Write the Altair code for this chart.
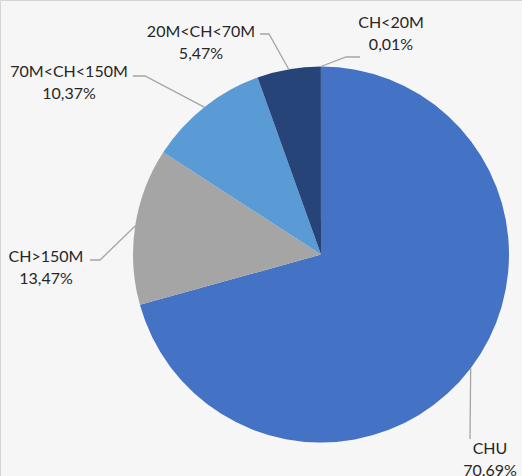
import math

import altair as alt
import pandas as pd

# Share of each hospital category (percent), clockwise from 12 o'clock
categories = ["CHU", "CH>150M", "70M<CH<150M", "20M<CH<70M", "CH<20M"]
shares = [70.69, 13.47, 10.37, 5.47, 0.01]
share_labels = ["70.69%", "13,47%", "10,37%", "5,47%", "0,01%"]
colors = ["#4472C4", "#A5A5A5", "#5B9BD5", "#264478", "#1F3864"]

# Pie geometry in pixels
W, H = 522, 476
CX, CY, R = 321, 254.5, 188

# Label layout: text centre x, baseline of the name line, leader elbow and end
label_x = [490, 46, 69, 201, 391]
label_y = [454, 262, 77, 37, 28]
elbow_pts = [(470, 439), (100, 260), (145, 76), (269, 34), (346, 57)]
end_pts = [(470, 439), (90, 260), (133, 76), (260, 34), (360, 57)]
LINE_GAP = 22

pie_df = pd.DataFrame({"cat": categories, "share": shares, "idx": range(len(categories))})

# Leader lines start on the rim at each slice's mid-angle
total = sum(shares)
rows = []
acc = 0.0
for i, (c, s) in enumerate(zip(categories, shares)):
    mid = (acc + s / 2) / total * 2 * math.pi
    acc += s
    ax = CX + R * math.sin(mid)
    ay = CY - R * math.cos(mid)
    pts = [(ax, ay), elbow_pts[i], end_pts[i]]
    for k, (px, py) in enumerate(pts):
        rows.append({"cat": c, "seg": k, "px": px, "py": py})
leader_df = pd.DataFrame(rows)

text_rows = []
for i, c in enumerate(categories):
    text_rows.append({"t": c, "px": label_x[i], "py": label_y[i]})
    text_rows.append({"t": share_labels[i], "px": label_x[i], "py": label_y[i] + LINE_GAP})
text_df = pd.DataFrame(text_rows)

shadow_df = pd.DataFrame({"r": [R + 1, R + 3, R + 5, R + 7]})

shadow = alt.Chart(shadow_df).mark_arc(theta=0, theta2=2 * math.pi, color="#000000", opacity=0.035).encode(
    x=alt.value(CX + 1),
    y=alt.value(CY + 2),
    radius=alt.Radius("r:Q", scale=None),
)

pie = alt.Chart(pie_df).mark_arc(radius=R, stroke=None).encode(
    theta=alt.Theta("share:Q", stack=True),
    order=alt.Order("idx:Q"),
    color=alt.Color("cat:N", scale=alt.Scale(domain=categories, range=colors), legend=None),
    x=alt.value(CX),
    y=alt.value(CY),
)

leaders = alt.Chart(leader_df).mark_line(color="#A5A5A5", strokeWidth=1.3).encode(
    x=alt.X("px:Q", scale=None, axis=None),
    y=alt.Y("py:Q", scale=None, axis=None),
    detail="cat:N",
    order="seg:Q",
)

labels = alt.Chart(text_df).mark_text(
    font="Lato", fontSize=16, color="#262626", align="center", baseline="alphabetic"
).encode(
    x=alt.X("px:Q", scale=None, axis=None),
    y=alt.Y("py:Q", scale=None, axis=None),
    text="t:N",
)

chart = (
    alt.layer(shadow, pie, leaders, labels)
    .properties(width=W, height=H, autosize=alt.AutoSizeParams(type="none"), padding=0)
    .configure_view(stroke=None)
    .configure(background="white")
)

chart.save("out.html", embed_options={"renderer": "svg", "actions": False})
